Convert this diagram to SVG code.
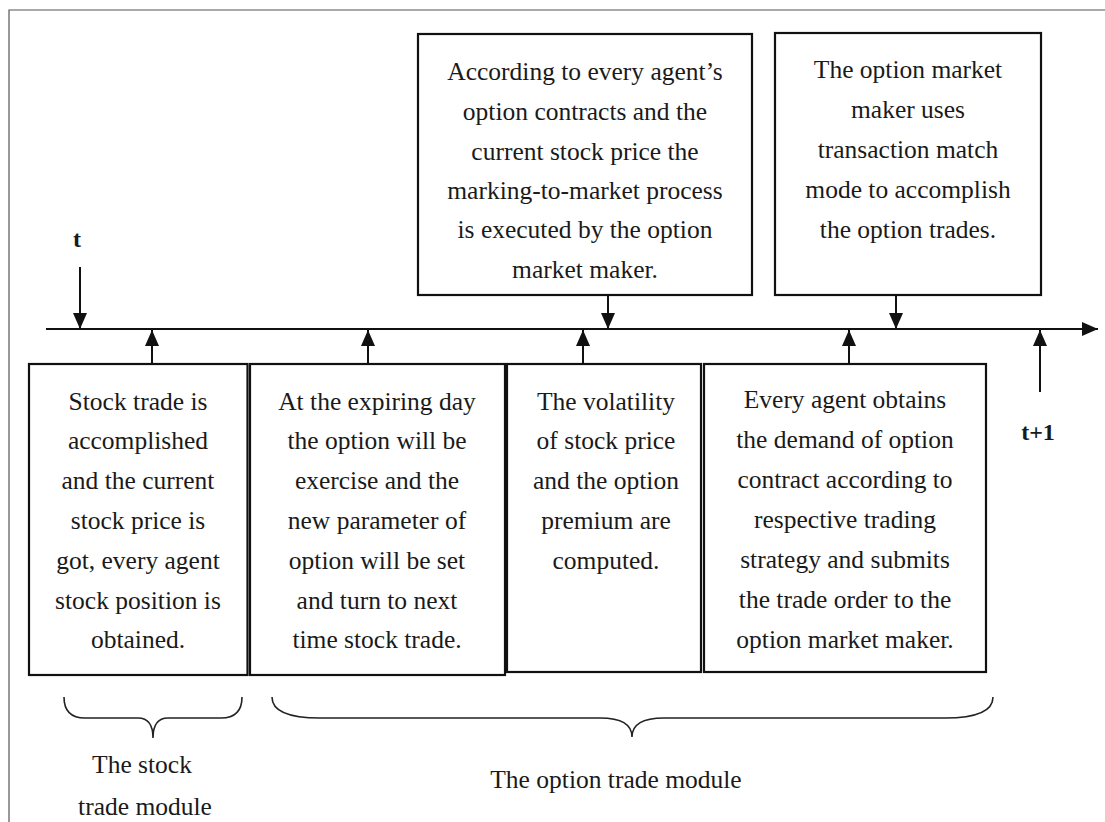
<svg xmlns="http://www.w3.org/2000/svg" width="1105" height="822" viewBox="0 0 1105 822">
<style>
.frame{fill:none;stroke:#555;stroke-width:1.2}
.box{fill:#fff;stroke:#111;stroke-width:2.2}
.ln{stroke:#111;stroke-width:2;fill:none}
.br{stroke:#222;stroke-width:1.6;fill:none}
text{font-family:"Liberation Serif","Times New Roman",serif;font-size:25.5px;fill:#1a1a1a;text-anchor:middle}
.lbl{font-weight:bold;font-size:24px}
</style>
<defs>
<marker id="ah" viewBox="0 0 16 14" refX="16" refY="7" markerWidth="16" markerHeight="14" markerUnits="userSpaceOnUse" orient="auto">
<path d="M0,0 L16,7 L0,14 Z" fill="#111"/>
</marker>
</defs>
<rect width="1105" height="822" fill="#fff"/>
<path class="frame" d="M9,822 L9,10 L1105,10"/>

<g id="connectors">
<line class="ln" x1="46" y1="329" x2="1098" y2="329" marker-end="url(#ah)"/>
<line class="ln" x1="80" y1="267" x2="80" y2="329" marker-end="url(#ah)"/>
<line class="ln" x1="608" y1="295" x2="608" y2="329" marker-end="url(#ah)"/>
<line class="ln" x1="896" y1="295" x2="896" y2="329" marker-end="url(#ah)"/>
<line class="ln" x1="152" y1="364" x2="152" y2="330" marker-end="url(#ah)"/>
<line class="ln" x1="368" y1="364" x2="368" y2="330" marker-end="url(#ah)"/>
<line class="ln" x1="583" y1="364" x2="583" y2="330" marker-end="url(#ah)"/>
<line class="ln" x1="849" y1="364" x2="849" y2="330" marker-end="url(#ah)"/>
<line class="ln" x1="1040" y1="392" x2="1040" y2="330" marker-end="url(#ah)"/>
</g>

<g id="label-t"><text class="lbl" x="77" y="247">t</text></g>
<g id="label-t1"><text class="lbl" x="1038" y="440">t+1</text></g>

<g id="box-mark">
<rect class="box" x="418" y="34" width="334" height="261"/>
<text x="585" y="80">According to every agent’s</text>
<text x="585" y="120">option contracts and the</text>
<text x="585" y="160">current stock price the</text>
<text x="585" y="199">marking-to-market process</text>
<text x="585" y="238">is executed by the option</text>
<text x="585" y="278">market maker.</text>
</g>

<g id="box-match">
<rect class="box" x="775" y="33" width="266" height="262"/>
<text x="908" y="78">The option market</text>
<text x="908" y="118">maker uses</text>
<text x="908" y="158">transaction match</text>
<text x="908" y="198">mode to accomplish</text>
<text x="908" y="238">the option trades.</text>
</g>

<g id="box-stock">
<rect class="box" x="29" y="364" width="218.5" height="311"/>
<text x="138" y="410">Stock trade is</text>
<text x="138" y="449">accomplished</text>
<text x="138" y="489">and the current</text>
<text x="138" y="529">stock price is</text>
<text x="138" y="569">got, every agent</text>
<text x="138" y="609">stock position is</text>
<text x="138" y="648">obtained.</text>
</g>

<g id="box-expire">
<rect class="box" x="250" y="364" width="255" height="311"/>
<text x="377" y="410">At the expiring day</text>
<text x="377" y="449">the option will be</text>
<text x="377" y="489">exercise and the</text>
<text x="377" y="529">new parameter of</text>
<text x="377" y="569">option will be set</text>
<text x="377" y="609">and turn to next</text>
<text x="377" y="648">time stock trade.</text>
</g>

<g id="box-vol">
<rect class="box" x="507" y="364" width="194" height="308"/>
<text x="606" y="410">The volatility</text>
<text x="606" y="449">of stock price</text>
<text x="606" y="489">and the option</text>
<text x="606" y="529">premium are</text>
<text x="606" y="569">computed.</text>
</g>

<g id="box-demand">
<rect class="box" x="704" y="364" width="282" height="308"/>
<text x="845" y="408">Every agent obtains</text>
<text x="845" y="448">the demand of option</text>
<text x="845" y="488">contract according to</text>
<text x="845" y="528">respective trading</text>
<text x="845" y="568">strategy and submits</text>
<text x="845" y="608">the trade order to the</text>
<text x="845" y="648">option market maker.</text>
</g>

<g id="brace-stock">
<path class="br" d="M64,697 Q64,718 85,718 L138,718 Q153,718 153,738 Q153,718 168,718 L221,718 Q242,718 242,697"/>
<text x="142" y="773">The stock</text>
<text x="145" y="815">trade module</text>
</g>

<g id="brace-option">
<path class="br" d="M272,697 Q272,718 320,718 L600,718 Q632,718 632,737 Q632,718 664,718 L945,718 Q993,718 993,697"/>
<text x="616" y="788">The option trade module</text>
</g>
</svg>
